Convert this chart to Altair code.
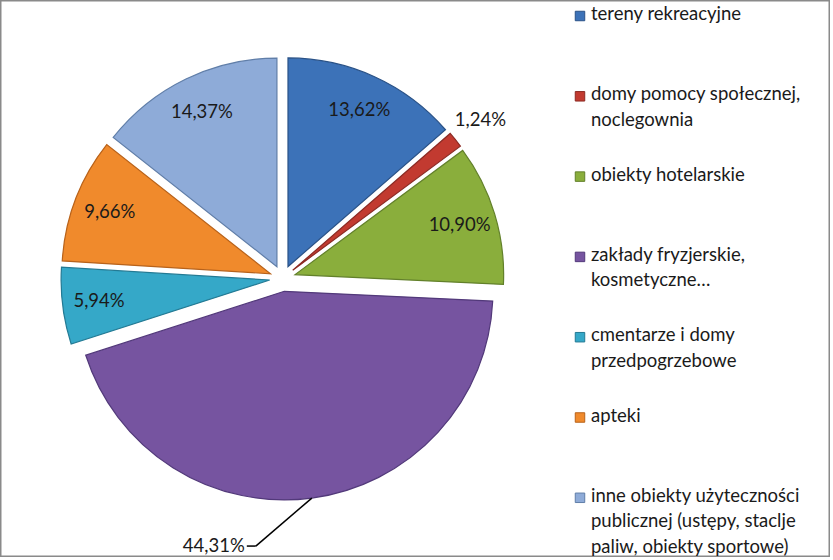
import altair as alt
import pandas as pd

categories = [
    "tereny rekreacyjne",
    "domy pomocy społecznej, noclegownia",
    "obiekty hotelarskie",
    "zakłady fryzjerskie, kosmetyczne…",
    "cmentarze i domy przedpogrzebowe",
    "apteki",
    "inne obiekty użyteczności publicznej (ustępy, staclje paliw, obiekty sportowe)",
]
legend_labels = [
    "tereny rekreacyjne",
    "domy pomocy społecznej,\nnoclegownia",
    "obiekty hotelarskie",
    "zakłady fryzjerskie,\nkosmetyczne…",
    "cmentarze i domy\nprzedpogrzebowe",
    "apteki",
    "inne obiekty użyteczności\npublicznej (ustępy, staclje\npaliw, obiekty sportowe)",
]
shares = [13.62, 1.24, 10.90, 44.31, 5.94, 9.66, 14.37]
colors = ["#3c72b8", "#c23a30", "#8aae3c", "#7654a0", "#35a8c8", "#f08a2c", "#8eabd8"]
edge_colors = ["#2a5287", "#8c2a23", "#62802a", "#52397a", "#237a94", "#b8621a", "#607ea8"]

df = pd.DataFrame({"idx": list(range(len(categories))), "cat": categories, "share": shares})
leg = pd.DataFrame({"idx": list(range(len(categories))), "cat": categories, "label": legend_labels})

CX, CY, R, EXP = 282.6, 278.4, 208.6, 13

color_scale = alt.Scale(domain=categories, range=colors)
stroke_scale = alt.Scale(domain=categories, range=edge_colors)
FONT = "Lato"
FS = 18.5

base = (
    alt.Chart(df)
    .transform_window(cum="sum(share)", sort=[alt.SortField("idx")])
    .transform_joinaggregate(total="sum(share)")
    .transform_calculate(
        t0="2*PI*(datum.cum - datum.share)/datum.total",
        t1="2*PI*datum.cum/datum.total",
    )
    .transform_calculate(mid="(datum.t0 + datum.t1)/2")
    .transform_calculate(
        cx=f"{CX} + {EXP}*sin(datum.mid)",
        cy=f"{CY} - {EXP}*cos(datum.mid)",
        lbl="replace(format(datum.share, '.2f'), '.', ',') + '%'",
    )
)

arcs = base.mark_arc(outerRadius=R, strokeWidth=1.2).encode(
    x=alt.X("cx:Q", scale=None, axis=None),
    y=alt.Y("cy:Q", scale=None, axis=None),
    theta=alt.Theta("t0:Q", scale=None, stack=None),
    theta2="t1:Q",
    color=alt.Color("cat:N", scale=color_scale, legend=None),
    stroke=alt.Stroke("cat:N", scale=stroke_scale, legend=None),
)

labels = (
    base.transform_filter("datum.share < 40")
    .transform_calculate(lr=f"datum.share < 3 ? {R} + 32 : 172")
    .transform_calculate(
        lx="datum.cx + datum.lr*sin(datum.mid)",
        ly="datum.cy - datum.lr*cos(datum.mid)",
    )
    .mark_text(font=FONT, fontSize=FS, color="#1a1a1a")
    .encode(
        x=alt.X("lx:Q", scale=None, axis=None),
        y=alt.Y("ly:Q", scale=None, axis=None),
        text="lbl:N",
    )
)

lead = base.transform_filter("datum.share >= 40").transform_calculate(
    sx=f"datum.cx + {R}*sin(datum.mid)",
    sy=f"datum.cy - {R}*cos(datum.mid)",
).transform_calculate(
    ex="datum.sx - 56",
    ey="datum.sy + 48",
).transform_calculate(hx="datum.ex - 9")

lead1 = lead.mark_rule(color="black", strokeWidth=1.5).encode(
    x=alt.X("sx:Q", scale=None, axis=None),
    y=alt.Y("sy:Q", scale=None, axis=None),
    x2="ex:Q",
    y2="ey:Q",
)
lead2 = lead.mark_rule(color="black", strokeWidth=1.5).encode(
    x=alt.X("ex:Q", scale=None, axis=None),
    y=alt.Y("ey:Q", scale=None, axis=None),
    x2="hx:Q",
    y2="ey:Q",
)
lead_text = lead.mark_text(font=FONT, fontSize=FS, color="#1a1a1a", align="right", dx=-2).encode(
    x=alt.X("hx:Q", scale=None, axis=None),
    y=alt.Y("ey:Q", scale=None, axis=None),
    text="lbl:N",
)

leg_base = alt.Chart(leg).transform_calculate(ly="16 + 80.3*datum.idx")
leg_sq = leg_base.mark_square(size=90, opacity=1, strokeWidth=1).encode(
    x=alt.value(580),
    y=alt.Y("ly:Q", scale=None, axis=None),
    color=alt.Color("cat:N", scale=color_scale, legend=None),
    stroke=alt.Stroke("cat:N", scale=stroke_scale, legend=None),
)
leg_txt = leg_base.mark_text(
    font=FONT, fontSize=FS, color="#1a1a1a", align="left", baseline="top", lineBreak="\n", lineHeight=25.5, dy=-11
).encode(
    x=alt.value(591),
    y=alt.Y("ly:Q", scale=None, axis=None),
    text="label:N",
)

chart = (
    alt.layer(arcs, labels, lead1, lead2, lead_text, leg_sq, leg_txt)
    .properties(width=830, height=557, autosize="none", padding=0)
    .configure_view(stroke="#8a8a8a", strokeWidth=3)
)

chart.save("out.html", embed_options={"renderer": "svg", "actions": False})
